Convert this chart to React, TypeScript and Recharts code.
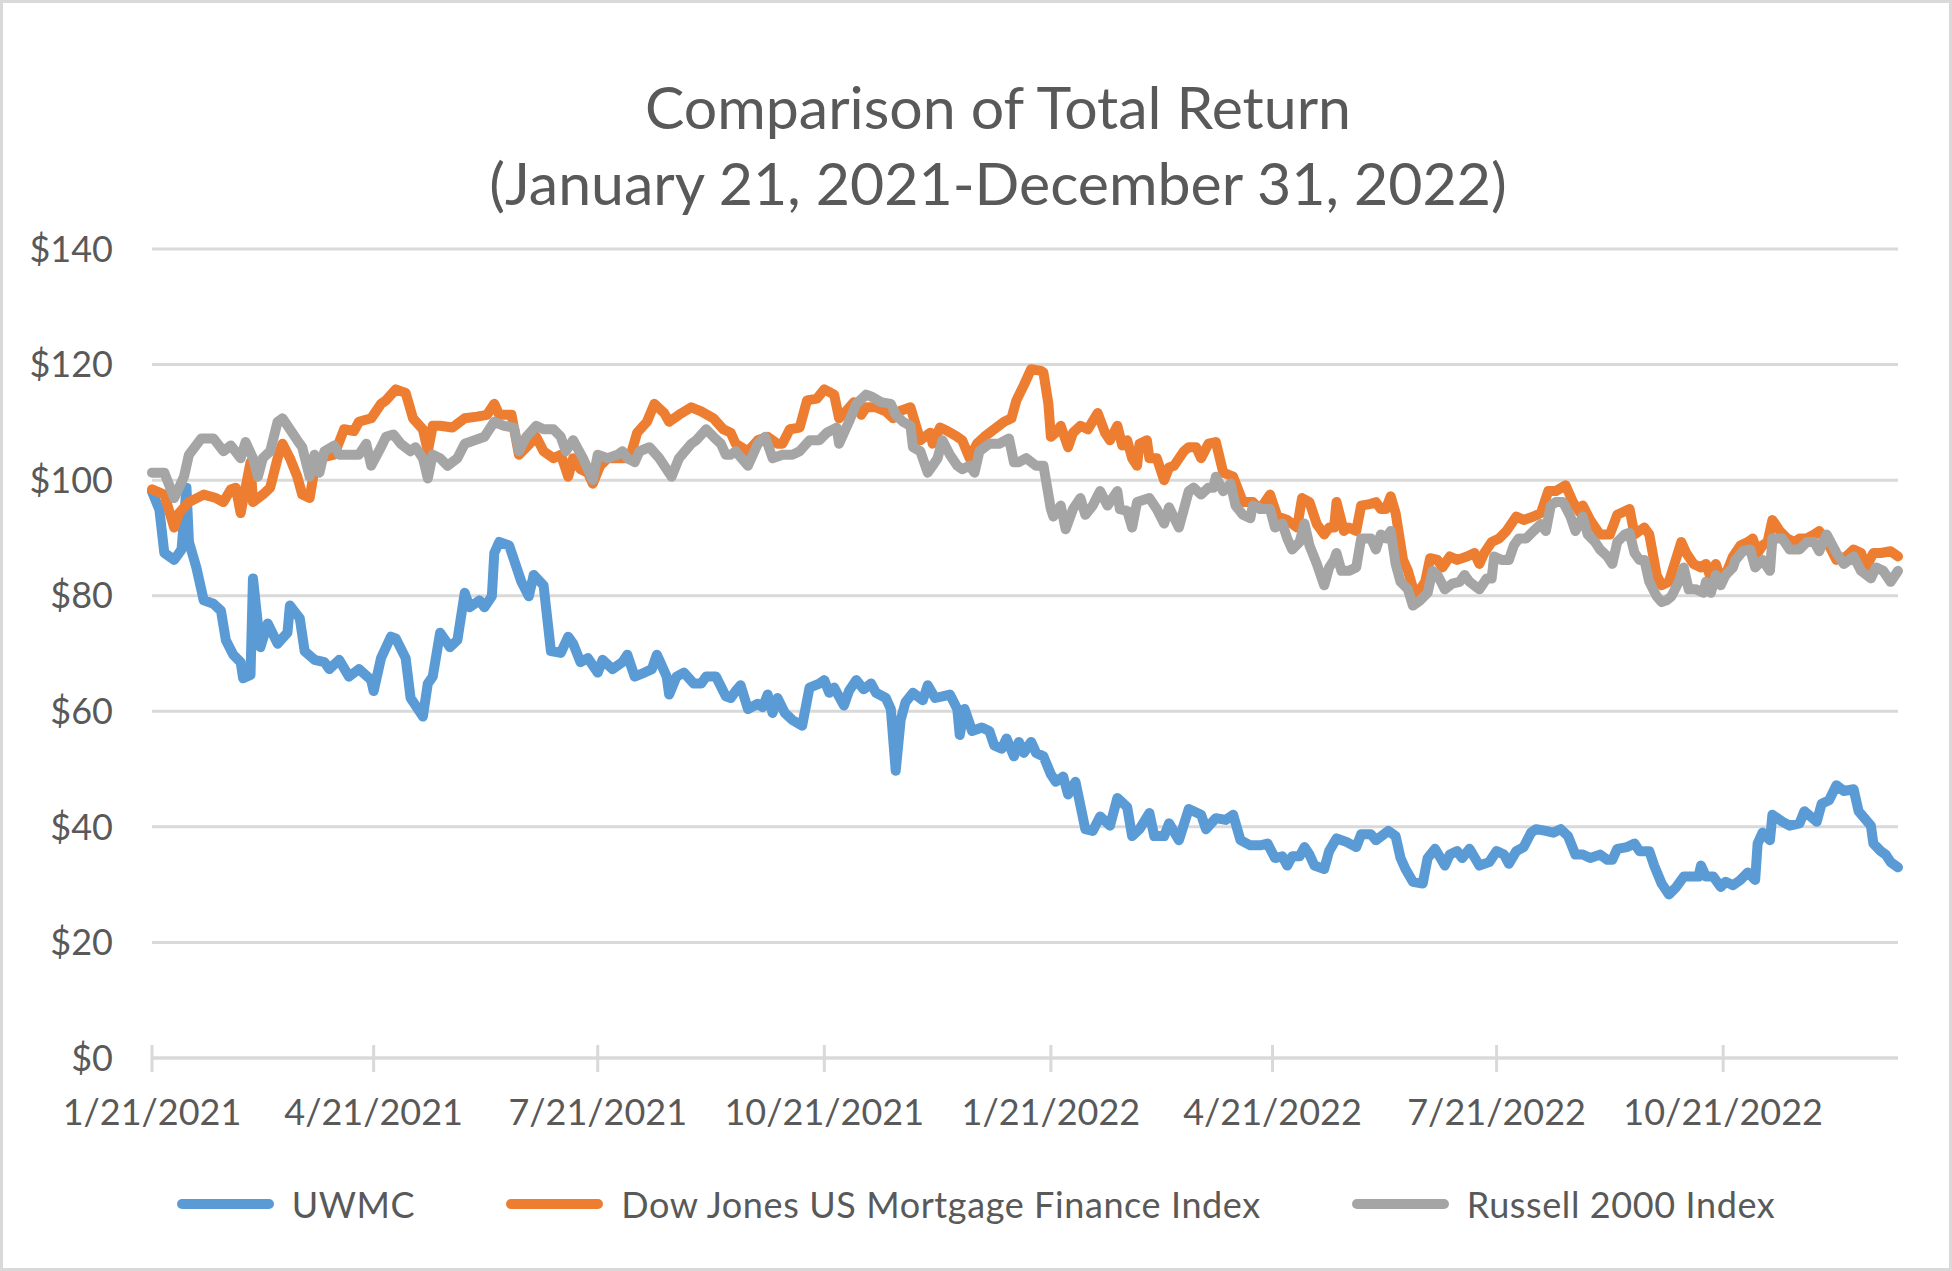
import React from 'react'
import { LineChart, Line, XAxis, YAxis, CartesianGrid } from 'recharts'

// days counted from 1/21/2021, values = growth of $100
const tickDays = [0, 90, 181, 273, 365, 455, 546, 638]
const tickLabels = ['1/21/2021', '4/21/2021', '7/21/2021', '10/21/2021', '1/21/2022', '4/21/2022', '7/21/2022', '10/21/2022']
const yTicks = [0, 20, 40, 60, 80, 100, 120, 140]

const uwmcDays = [
  0, 3, 5, 9, 12, 14, 15, 18, 21, 25, 28, 30, 33, 36, 37, 40, 41, 44, 47, 51, 55, 56, 60, 62, 66, 70, 72, 76, 80, 84, 89, 90, 93, 97, 99, 103, 105, 110, 112, 114,
  117, 121, 124, 127, 129, 133, 135, 138, 139, 141, 145, 147, 150, 153, 155, 159, 162, 166, 169, 171, 174, 177, 181, 183, 187, 191, 193, 196, 200, 203, 205, 209, 210, 213, 216, 220, 223, 225, 229, 233,
  235, 237, 239, 242, 246, 248, 250, 252, 254, 257, 260, 264, 267, 271, 273, 275, 277, 281, 283, 286, 289, 292, 294, 298, 300, 302, 304, 306, 309, 313, 315, 318, 321, 324, 327, 328, 330, 333, 337, 340, 342, 345, 347, 350,
  352, 354, 357, 359, 362, 365, 367, 370, 372, 375, 379, 382, 385, 389, 392, 396, 398, 401, 405, 407, 411, 413, 417, 421, 426, 428, 432, 436, 439, 442, 446, 450, 453, 456, 459, 461, 463, 466, 468,
  470, 472, 476, 478, 481, 485, 489, 491, 495, 497, 502, 505, 507, 509, 512, 516, 518, 521, 525, 527, 530, 532, 535, 539, 543, 546, 549, 551, 554, 557, 560, 562, 566, 569, 572, 575, 578, 581, 584,
  588, 591, 593, 595, 599, 602, 604, 608, 610, 613, 616, 619, 622, 626, 628, 629, 631, 634, 637, 639, 642, 645, 648, 651, 652, 654, 657, 658, 662, 665, 669, 671, 676, 678, 681, 684, 687, 691, 693, 698, 699, 702, 704, 706, 709,
]
const uwmcValues = [
  98, 94.9, 87.4, 86.2, 88, 98.7, 89.3, 84.9, 79.2, 78.6, 77.4, 72.3, 69.8, 68.5, 65.7, 66.3, 83, 71.1, 75.2, 71.7, 73.6, 78.3, 76.1, 70.4, 68.9, 68.5, 67.3, 68.9, 66, 67.3, 65.4, 63.5, 69.2, 72.9, 72.6, 69.2, 62.3, 59.1, 64.8, 66,
  73.6, 71.1, 72.3, 80.5, 78, 79.2, 78, 79.9, 87.4, 89.3, 88.7, 86.2, 82.4, 79.9, 83.6, 81.8, 70.4, 70.1, 72.9, 71.7, 68.5, 69.2, 66.7, 68.9, 67.3, 68.5, 69.8, 66, 66.7, 67.3, 69.8, 66, 62.9, 66, 66.7, 64.8, 64.8, 66, 66, 62.6,
  62.3, 63.5, 64.5, 60.4, 61.3, 60.7, 62.9, 59.7, 62.3, 59.7, 58.5, 57.5, 64.1, 64.8, 65.4, 63.2, 64.1, 61, 63.5, 65.4, 63.8, 64.8, 63.2, 62.3, 60.4, 49.7, 58.5, 61.6, 63.2, 61.9, 64.5, 62.3, 62.6, 62.9, 60.4, 55.9, 60.4, 56.6, 57.2, 56.6, 54.1, 53.5, 55.3, 52.2,
  54.7, 52.8, 54.7, 52.8, 52.2, 49.1, 47.8, 48.7, 45.6, 47.8, 39.6, 39.3, 41.8, 40.2, 45, 43.4, 38.4, 39.6, 42.4, 38.4, 38.4, 40.6, 37.7, 43.1, 42.1, 39.6, 41.5, 41.2, 42.1, 37.7, 36.8, 36.8, 37.1, 34.6, 34.9, 33.3, 34.9, 34.9, 36.5,
  35.2, 33.3, 32.7, 35.8, 38, 37.4, 36.5, 38.7, 38.7, 37.7, 39.3, 38.4, 34.6, 32.7, 30.5, 30.2, 34.6, 36.2, 33.3, 35.2, 35.8, 34.6, 36.2, 33.3, 33.9, 35.8, 35.2, 33.6, 35.8, 36.5, 39, 39.6, 39.3, 39, 39.6, 38.4, 35.2, 35.2, 34.6,
  35.2, 34.3, 34.3, 36.2, 36.5, 37.1, 35.8, 35.8, 33.3, 30.2, 28.3, 29.6, 31.4, 31.4, 31.4, 33.3, 31.4, 31.4, 29.6, 30.5, 29.9, 30.8, 32.1, 30.8, 37.1, 39, 37.7, 42.1, 40.9, 40.2, 40.6, 42.7, 40.9, 44, 44.6, 47.2, 46.2, 46.5, 42.7, 40.2, 37.1, 35.8, 35.2, 33.9, 33,
]

const djDays = [
  0, 5, 9, 11, 15, 21, 26, 29, 32, 34, 36, 38, 40, 41, 45, 48, 51, 53, 56, 59, 61, 64, 66, 68, 74, 78, 82, 84, 89, 93, 95, 99, 103, 106, 110, 112, 114,
  117, 122, 127, 132, 136, 139, 141, 146, 149, 152, 156, 159, 163, 166, 168, 169, 171, 174, 177, 179, 182, 185, 190, 194, 197, 201, 204, 208, 210, 214, 219, 223, 228, 232,
  235, 237, 242, 246, 250, 254, 256, 259, 263, 266, 270, 273, 277, 279, 282, 285, 288, 290, 294, 298, 301, 304, 308, 312, 316, 317, 320, 323, 327, 329, 332, 335, 338, 342, 346, 349, 351,
  354, 357, 361, 362, 364, 365, 367, 369, 372, 374, 377, 380, 384, 387, 389, 392, 394, 396, 398, 400, 401, 404, 405, 408, 411, 413, 415, 419, 421, 424, 426, 429, 432, 435, 439, 443, 447, 450, 454, 457, 461, 465, 467,
  470, 473, 476, 478, 480, 481, 484, 486, 489, 491, 495, 497, 499, 501, 503, 505, 508, 510, 513, 515, 517, 519, 522, 524, 527, 530, 534, 537, 539, 541, 544, 547, 550, 554, 557, 561, 564, 567, 570, 574, 577, 580, 581, 584,
  588, 592, 595, 600, 602, 606, 608, 611, 613, 616, 621, 623, 626, 629, 631, 633, 635, 637, 639, 642, 645, 648, 650, 652, 654, 656, 658, 661, 664, 667, 669, 672, 675, 677, 681, 684, 688, 691, 694, 696, 699, 702, 706, 709,
]
const djValues = [
  98.4, 97.5, 91.8, 94.3, 96.2, 97.5, 96.9, 96.2, 98.4, 98.7, 94.3, 98.7, 103.1, 96.2, 97.5, 98.7, 103.8, 106.3, 103.8, 100.6, 97.5, 96.9, 101.9, 103.8, 104.4, 108.8, 108.5, 110.1, 110.7, 113.2, 113.8, 115.7, 115.1, 110.7, 108.8, 105, 109.4,
  109.4, 109.1, 110.7, 111, 111.3, 113.2, 111.3, 111.3, 104.4, 105.7, 107.5, 105, 103.8, 104.4, 101.9, 100.6, 103.8, 101.9, 101.3, 99.4, 102.5, 103.8, 103.8, 103.8, 108.2, 110.1, 113.2, 111.6, 110.1, 111.3, 112.6, 111.9, 110.7, 108.8,
  108.2, 106.3, 105, 106.9, 107.5, 106.3, 106.3, 108.8, 109.1, 113.8, 114.1, 115.7, 114.8, 110.7, 112, 113.5, 111.3, 112.6, 112.6, 111.9, 110.7, 112, 112.6, 106.9, 108.2, 106.3, 109.1, 108.5, 107.5, 106.9, 103.8, 106.3, 107.5, 108.8, 110.1, 110.7, 113.8,
  116.4, 119.2, 118.9, 118.6, 113.2, 107.5, 108.2, 109.4, 105.7, 108.2, 109.4, 108.8, 111.6, 108.2, 106.9, 109.4, 106, 106.9, 103.8, 102.5, 106.3, 106.9, 103.8, 103.8, 100, 102.2, 102.5, 105, 105.7, 105.7, 103.8, 106.3, 106.6, 101.3, 100.6, 96.2, 96.2, 95, 97.5, 93.7, 93.1, 91.8, 96.9,
  96.2, 92.4, 90.6, 91.8, 91.8, 96.2, 91.2, 91.8, 91.2, 95.6, 95.9, 96.2, 95, 95, 97.2, 94.3, 86.2, 84.3, 79.9, 81.1, 82.4, 86.5, 86.2, 84.9, 86.8, 86.2, 86.8, 87.4, 85.5, 87.4, 89.3, 89.9, 91.2, 93.7, 93.1, 93.7, 94.3, 98.1, 98.1, 99.1, 96.2, 94.3, 95.6, 93.1,
  90.6, 90.6, 94, 95, 90.6, 91.8, 90.6, 83.6, 81.8, 82.4, 89.3, 87.4, 85.5, 84.9, 85.5, 83, 85.5, 83, 83.6, 86.8, 88.7, 89.3, 89.9, 87.4, 88.7, 89.3, 93.1, 91.2, 89.9, 89.3, 89.9, 89.9, 90.6, 91.2, 88.7, 86.2, 86.8, 88, 87.4, 84.9, 87.4, 87.4, 87.7, 86.8,
]

const r2kDays = [
  0, 5, 9, 13, 15, 20, 25, 29, 32, 36, 38, 41, 43, 45, 48, 51, 53, 56, 59, 61, 64, 66, 68, 70, 74, 76, 80, 84, 87, 89, 93, 95, 98, 101, 105, 107, 110, 112, 114,
  117, 120, 124, 127, 131, 135, 139, 143, 147, 149, 152, 156, 159, 163, 166, 168, 171, 175, 177, 179, 181, 185, 189, 191, 193, 196, 198, 202, 206, 211, 214, 219, 221, 225, 228, 231, 233,
  235, 237, 242, 246, 249, 252, 256, 260, 263, 267, 271, 274, 278, 279, 283, 286, 290, 292, 296, 300, 302, 305, 308, 309, 312, 315, 317, 319, 321, 324, 327, 329, 332, 334, 336, 340, 344, 348, 350,
  352, 355, 359, 362, 365, 366, 369, 371, 374, 377, 379, 382, 385, 388, 392, 393, 396, 398, 400, 405, 408, 411, 413, 417, 421, 423, 426, 429, 431, 432, 435, 438, 440, 443, 446, 447, 451, 454, 456, 459, 461, 463, 466, 468,
  470, 473, 476, 478, 480, 481, 483, 486, 489, 491, 495, 497, 499, 501, 503, 505, 507, 510, 512, 515, 518, 520, 522, 525, 528, 531, 533, 535, 539, 542, 544, 545, 548, 551, 553, 555, 558, 561, 564, 566, 568, 570, 573, 576, 578, 581, 583, 586,
  588, 591, 593, 595, 598, 600, 602, 604, 606, 608, 611, 613, 615, 617, 620, 622, 624, 627, 630, 631, 633, 635, 637, 639, 642, 643, 646, 649, 651, 654, 657, 658, 662, 665, 669, 672, 675, 677, 680, 684, 687, 691, 694, 698, 700, 703, 706, 709,
]
const r2kValues = [
  101.3, 101.3, 96.9, 100.6, 104.4, 107.2, 107.2, 105, 106, 103.8, 106.6, 103.8, 100.6, 103.8, 105, 110.1, 110.7, 108.8, 106.9, 105.7, 100.6, 104.4, 101.3, 105, 106, 104.4, 104.4, 104.4, 106.3, 102.5, 105.7, 107.5, 107.9, 106.3, 105, 105.7, 103.8, 100.3, 104.4,
  103.8, 102.5, 103.8, 106.3, 106.9, 107.5, 110.1, 109.4, 109.1, 105, 107.5, 109.4, 108.8, 108.8, 107.5, 105, 106.9, 103.8, 101.9, 100, 104.4, 103.8, 104.4, 105, 103.8, 103.1, 105, 105.7, 103.8, 100.6, 103.8, 106.3, 106.9, 108.8, 107.5, 106.3, 104.4,
  104.4, 105, 102.5, 106.3, 107.5, 103.8, 104.4, 104.4, 105, 106.9, 106.9, 108.2, 109.1, 106.3, 110.1, 113.2, 114.8, 114.5, 113.5, 113.2, 111.3, 110.1, 109.4, 105.7, 105, 101.3, 102.5, 103.8, 106.9, 104.4, 102.5, 101.9, 102.5, 101.3, 105, 106.3, 106.3, 107.2, 103.1,
  103.1, 103.8, 102.5, 102.5, 95, 93.7, 95.6, 91.5, 95, 96.9, 94, 95.6, 98.1, 95.6, 98.1, 95, 94.7, 91.8, 96.2, 96.9, 95, 92.5, 95.3, 91.8, 98.1, 98.7, 97.5, 98.7, 98.7, 100.6, 98.1, 99.4, 95.6, 94, 93.4, 95.6, 95, 95, 91.8, 92.5, 89.9, 88, 89.3, 92.5,
  88.7, 85.5, 81.8, 84.9, 86.2, 87.4, 84.3, 84.3, 84.9, 89.9, 89.9, 88, 90.6, 89.9, 91.2, 85.5, 82.4, 81.1, 78.3, 79.2, 80.5, 84.3, 83.6, 81.1, 82.1, 82.4, 83.6, 82.4, 81.1, 83, 83, 86.8, 86.2, 86.2, 88.7, 89.9, 89.9, 91.2, 92.4, 91.2, 95.6, 96.2, 96.2, 93.7, 91.2, 93.7, 90.6, 89.3,
  88, 86.8, 85.5, 89.3, 90.6, 90.9, 87.4, 86.2, 86.2, 82.4, 79.9, 78.9, 79.2, 79.9, 82.4, 84.9, 81.1, 81.1, 80.5, 82.4, 80.5, 83.6, 81.8, 83.6, 84.9, 86.2, 87.7, 88, 84.9, 86.2, 84.3, 89.9, 89.9, 88, 88, 89.3, 89.3, 87.7, 90.6, 87.4, 85.5, 86.8, 84.3, 83, 84.9, 84.3, 82.4, 84.3,
]

const series = [
  { name: 'UWMC', color: '#5B9BD5', days: uwmcDays, values: uwmcValues },
  { name: 'Dow Jones US Mortgage Finance Index', color: '#ED7D31', days: djDays, values: djValues },
  { name: 'Russell 2000 Index', color: '#A5A5A5', days: r2kDays, values: r2kValues },
]

const FONT = 'Lato, "Open Sans", sans-serif'
const TEXT = '#595959'
const GRID = '#D9D9D9'

function DateTick(props: any) {
  const { x, y, payload } = props
  const label = tickLabels[tickDays.indexOf(payload.value)]
  return (
    <g>
      <line x1={x} x2={x} y1={y - 13} y2={y + 14} stroke={GRID} strokeWidth={3} />
      <text x={x} y={y + 67} textAnchor="middle" fill={TEXT} fontSize={36} fontFamily={FONT}>
        {label}
      </text>
    </g>
  )
}

export default function App() {
  return (
    <div style={{ position: 'absolute', left: 0, top: 0, width: 1952, height: 1271, background: '#fff', fontFamily: FONT }}>
      {/* title */}
      <div
        style={{
          position: 'absolute',
          left: 998,
          top: 69,
          transform: 'translateX(-50%)',
          whiteSpace: 'nowrap',
          textAlign: 'center',
          fontSize: 59,
          lineHeight: '76px',
          color: TEXT,
        }}
      >
        Comparison of Total Return
        <br />
        (January 21, 2021-December 31, 2022)
      </div>

      <div style={{ position: 'absolute', left: 0, top: 0 }}>
        <LineChart width={1952} height={1271} margin={{ top: 249, right: 54, left: 0, bottom: 133 }}>
          <CartesianGrid vertical={false} stroke={GRID} strokeWidth={3} />
          <XAxis
            type="number"
            dataKey="day"
            domain={[0, 709]}
            ticks={tickDays}
            tick={<DateTick />}
            tickSize={0}
            tickMargin={0}
            tickLine={false}
            axisLine={{ stroke: GRID, strokeWidth: 3 }}
            height={80}
            interval={0}
          />
          <YAxis
            type="number"
            domain={[0, 140]}
            ticks={yTicks}
            tickFormatter={(v) => `$${v}`}
            tick={{ fill: TEXT, fontSize: 36, fontFamily: FONT }}
            tickSize={0}
            tickMargin={39}
            tickLine={false}
            axisLine={false}
            width={152}
            interval={0}
          />
          {series.map((s) => (
            <Line
              key={s.name}
              data={s.days.map((d, i) => ({ day: d, value: s.values[i] }))}
              dataKey="value"
              name={s.name}
              type="linear"
              stroke={s.color}
              strokeWidth={10}
              strokeLinejoin="round"
              strokeLinecap="round"
              dot={false}
              activeDot={false}
              isAnimationActive={false}
            />
          ))}
        </LineChart>
      </div>

      {/* legend */}
      <div
        style={{
          position: 'absolute',
          left: 0,
          width: 1952,
          top: 1179,
          height: 50,
          display: 'flex',
          justifyContent: 'center',
          alignItems: 'center',
          gap: 91,
        }}
      >
        {series.map((s) => (
          <div key={s.name} style={{ display: 'flex', alignItems: 'center', gap: 18 }}>
            <span style={{ width: 97, height: 10, borderRadius: 5, background: s.color, display: 'inline-block' }} />
            <span style={{ fontSize: 36, color: TEXT, whiteSpace: 'nowrap', letterSpacing: 0.6 }}>{s.name}</span>
          </div>
        ))}
      </div>

      {/* outer frame */}
      <div
        style={{
          position: 'absolute',
          inset: 0,
          border: `3px solid ${GRID}`,
          boxSizing: 'border-box',
          pointerEvents: 'none',
        }}
      />
    </div>
  )
}
